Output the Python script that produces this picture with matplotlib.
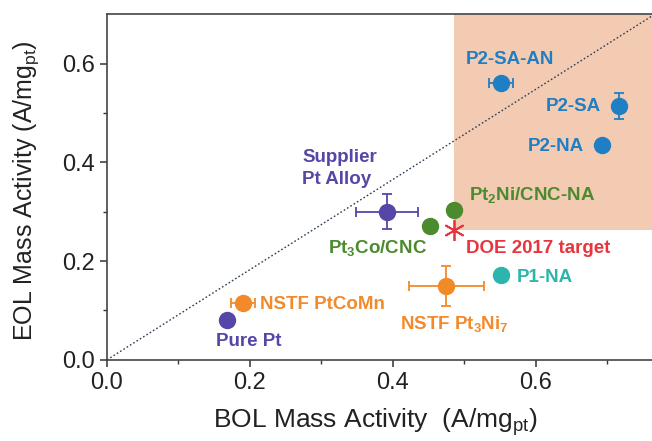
import matplotlib.pyplot as plt
from matplotlib.patches import Rectangle

plt.rcParams['font.family'] = ['Liberation Sans', 'DejaVu Sans']
plt.rcParams['mathtext.fontset'] = 'custom'
plt.rcParams['mathtext.rm'] = 'Liberation Sans'
plt.rcParams['mathtext.bf'] = 'Liberation Sans:bold'
plt.rcParams['mathtext.default'] = 'regular'

# catalyst data (BOL, EOL, x error, y error)
names = ["P2-SA-AN", "P2-SA", "P2-NA", "Pt2Ni/CNC-NA", "Supplier Pt Alloy",
         "Pt3Co/CNC", "P1-NA", "NSTF Pt3Ni7", "NSTF PtCoMn", "Pure Pt"]
bol = [0.551, 0.716, 0.692, 0.485, 0.392, 0.452, 0.551, 0.475, 0.190, 0.168]
eol = [0.560, 0.514, 0.435, 0.303, 0.300, 0.270, 0.172, 0.150, 0.115, 0.081]
bol_err = [0.017, 0.0, 0.0, 0.0, 0.043, 0.0, 0.0, 0.053, 0.017, 0.0]
eol_err = [0.0, 0.027, 0.0, 0.0, 0.035, 0.0, 0.0, 0.040, 0.0, 0.0]
colors = ["#1f7fc4", "#1f7fc4", "#1f7fc4", "#4c8a2e", "#5546a8",
          "#4c8a2e", "#2bb5ad", "#f28a2a", "#f28a2a", "#5546a8"]

doe_target = (0.485, 0.262)
diag_x = [0.0, 0.77]
diag_y = [0.0, 0.703]

fig = plt.figure(figsize=(6.52, 4.41), dpi=100)
ax = fig.add_axes([0.164, 0.184, 0.877, 0.784])

ax.add_patch(Rectangle((doe_target[0], doe_target[1]), 0.4, 0.5,
                       facecolor="#f3cbb3", edgecolor="none", zorder=0))
ax.plot(diag_x, diag_y, linestyle=(0, (1.2, 1.6)), color="#2e3f55", lw=1.0, zorder=1)

for i in range(len(names)):
    ax.errorbar(bol[i], eol[i],
                xerr=bol_err[i] if bol_err[i] > 0 else None,
                yerr=eol_err[i] if eol_err[i] > 0 else None,
                fmt="o", color=colors[i], ms=11.5, elinewidth=1.3,
                capsize=3.5, capthick=1.3, zorder=3)

ax.plot(doe_target[0], doe_target[1], marker=(6, 2, 0), ms=15, color="#e8353d",
        mew=1.3, zorder=4)

kw = dict(fontsize=13.5, fontweight="bold")
ax.text(0.564, 0.609, "P2-SA-AN", color="#1f7fc4", ha="center", va="center", **kw)
ax.text(0.691, 0.512, "P2-SA", color="#1f7fc4", ha="right", va="center", **kw)
ax.text(0.667, 0.432, "P2-NA", color="#1f7fc4", ha="right", va="center", **kw)
ax.text(0.506, 0.333, "Pt$_2$Ni/CNC-NA", color="#4c8a2e", ha="left", va="center", **kw)
ax.text(0.273, 0.387, "Supplier\nPt Alloy", color="#5546a8", ha="left", va="center",
        multialignment="left", linespacing=1.35, **kw)
ax.text(0.448, 0.226, "Pt$_3$Co/CNC", color="#4c8a2e", ha="right", va="center", **kw)
ax.text(0.503, 0.225, "DOE 2017 target", color="#e8353d", ha="left", va="center", **kw)
ax.text(0.573, 0.167, "P1-NA", color="#2bb5ad", ha="left", va="center", **kw)
ax.text(0.214, 0.112, "NSTF PtCoMn", color="#f28a2a", ha="left", va="center", **kw)
ax.text(0.410, 0.072, "NSTF Pt$_3$Ni$_7$", color="#f28a2a", ha="left", va="center", **kw)
ax.text(0.152, 0.037, "Pure Pt", color="#5546a8", ha="left", va="center", **kw)

ax.set_xlim(0, 0.8)
ax.set_ylim(0, 0.7)
ax.set_xticks([0.0, 0.2, 0.4, 0.6])
ax.set_yticks([0.0, 0.2, 0.4, 0.6])
ax.set_xticks([0.1, 0.3, 0.5, 0.7], minor=True)
ax.set_yticks([0.1, 0.3, 0.5], minor=True)
ax.tick_params(which="major", direction="out", length=5, width=1.1, labelsize=17,
               colors="#333333", labelcolor="#222222")
ax.tick_params(which="minor", direction="out", length=3, width=1.0, colors="#333333")
for s in ax.spines.values():
    s.set_color("#444444")
    s.set_linewidth(1.2)

ax.set_xlabel("BOL Mass Activity  (A/mg$_{pt}$)", fontsize=19, color="#222222")
ax.set_ylabel("EOL Mass Activity (A/mg$_{pt}$)", fontsize=18, color="#222222")
ax.xaxis.set_label_coords(0.47, -0.135)
ax.yaxis.set_label_coords(-0.115, 0.49)

fig.savefig("out.png", dpi=100)
